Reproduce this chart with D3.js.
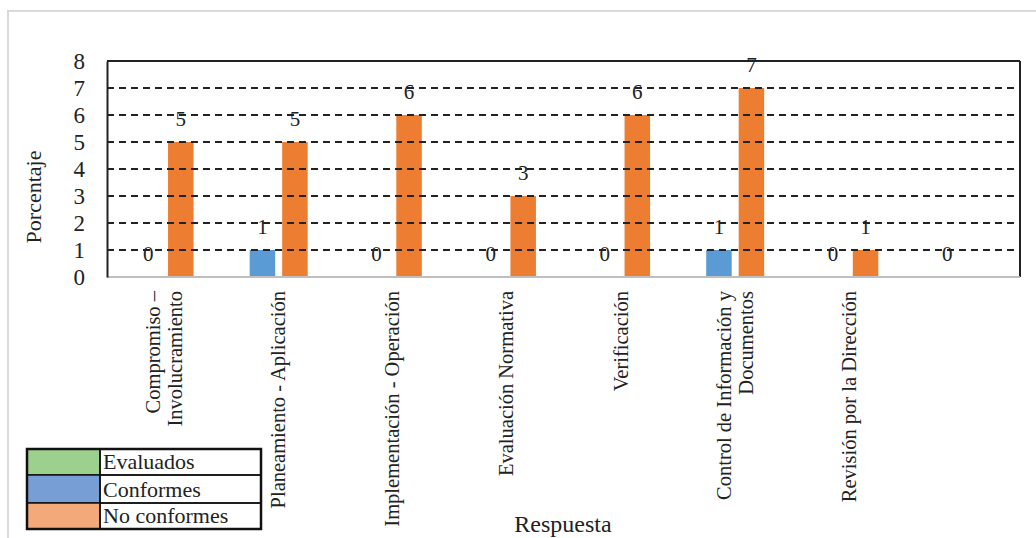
<!DOCTYPE html>
<html>
<head>
<meta charset="utf-8">
<script src="https://cdn.jsdelivr.net/npm/d3@7/dist/d3.min.js"></script>
<style>
html,body{margin:0;padding:0;background:#fff;}
svg{display:block;}
svg text{font-family:"Liberation Serif","Tinos","Times New Roman","DejaVu Serif","Noto Serif",serif;}
</style>
</head>
<body>
<svg id="chart" width="1036" height="538"></svg>
<script>
// ---- data ----
const categories = [
  ["Compromiso –", "Involucramiento"],
  ["Planeamiento - Aplicación"],
  ["Implementación - Operación"],
  ["Evaluación Normativa"],
  ["Verificación"],
  ["Control de Información y", "Documentos"],
  ["Revisión por la Dirección"],
  [""]
];
const seriesNames = ["Conformes", "No conformes"];
const conformes = [0, 1, 0, 0, 0, 1, 0, 0];
const noConformes = [5, 5, 6, 3, 6, 7, 1, null];
const legendLabels = ["Evaluados", "Conformes", "No conformes"];
const yTicks = [0, 1, 2, 3, 4, 5, 6, 7, 8];
const yTitle = "Porcentaje";
const xTitle = "Respuesta";

// ---- styles ----
const barColors = {"Conformes": "#5b9bd5", "No conformes": "#ed7d31"};
const legendColors = ["#9dd08e", "#779fd6", "#f4a97b"];

const svg = d3.select("#chart");
const L = 107, R = 1020, T = 61, B = 277;

// outer frame
svg.append("rect").attr("x", 8).attr("y", 11).attr("width", 1100).attr("height", 600)
  .attr("fill", "none").attr("stroke", "#d9d9d9").attr("stroke-width", 2);

const x = d3.scaleBand().domain(d3.range(categories.length)).range([L, R]).padding(0);
const xs = d3.scaleBand().domain(seriesNames).range([-28.5, 29.5]).paddingInner(0.215).paddingOuter(0);
const y = d3.scaleLinear().domain([0, 8]).range([B, T]);

const seriesData = [
  {name: "Conformes", values: conformes},
  {name: "No conformes", values: noConformes}
];

// bars
const groups = svg.append("g");
seriesData.forEach(s => {
  s.values.forEach((v, i) => {
    if (v === null) return;
    const cx = x(i) + x.bandwidth() / 2;
    const bx = cx + xs(s.name);
    if (v > 0) {
      groups.append("rect")
        .attr("x", bx).attr("y", y(v))
        .attr("width", xs.bandwidth()).attr("height", y(0) - y(v))
        .attr("fill", barColors[s.name]);
    }
    groups.append("text")
      .attr("x", bx + xs.bandwidth() / 2)
      .attr("y", y(v) - 16)
      .attr("text-anchor", "middle")
      .attr("font-size", 21)
      .attr("fill", "#222")
      .text(v);
  });
});

// gridlines (drawn over labels)
const grid = svg.append("g");
yTicks.filter(t => t > 0 && t < 8).forEach(t => {
  grid.append("line").attr("x1", L).attr("x2", R).attr("y1", y(t)).attr("y2", y(t))
    .attr("stroke", "#222").attr("stroke-width", 2).attr("stroke-dasharray", "7,5");
});
// frame lines
grid.append("line").attr("x1", L).attr("x2", R).attr("y1", y(8)).attr("y2", y(8))
  .attr("stroke", "#222").attr("stroke-width", 2);
grid.append("line").attr("x1", R).attr("x2", R).attr("y1", y(8)).attr("y2", y(0))
  .attr("stroke", "#222").attr("stroke-width", 2);
grid.append("line").attr("x1", L).attr("x2", R).attr("y1", y(0)).attr("y2", y(0))
  .attr("stroke", "#bfbfbf").attr("stroke-width", 2);

// y axis
const yAxis = d3.axisLeft(y).tickValues(yTicks).tickSize(0).tickPadding(22).tickFormat(d3.format("d"));
const ya = svg.append("g").attr("transform", `translate(${L},0)`).call(yAxis);
ya.attr("font-family", null);
ya.select(".domain").attr("stroke", "#222").attr("stroke-width", 2);
ya.selectAll("text").attr("font-size", 23).attr("fill", "#222");

// x labels
const xl = svg.append("g");
categories.forEach((lines, i) => {
  const cx = x(i) + x.bandwidth() / 2;
  const n = lines.length;
  lines.forEach((ln, j) => {
    const off = (j - (n - 1) / 2) * 22;
    xl.append("text")
      .attr("transform", `translate(${cx + off + 7},291) rotate(-90)`)
      .attr("text-anchor", "end")
      .attr("font-size", 20.5)
      .attr("fill", "#222")
      .text(ln);
  });
});

// axis titles
svg.append("text").attr("transform", "translate(41,197) rotate(-90)")
  .attr("text-anchor", "middle").attr("font-size", 22).attr("fill", "#222").text(yTitle);
svg.append("text").attr("x", 563).attr("y", 532)
  .attr("text-anchor", "middle").attr("font-size", 24).attr("fill", "#222").text(xTitle);

// legend table
const lg = svg.append("g");
const lx = 27, ly = 449, lw = 234, sw = 73, rh = [26, 28, 26];
let yy = ly;
legendLabels.forEach((lab, i) => {
  lg.append("rect").attr("x", lx).attr("y", yy).attr("width", sw).attr("height", rh[i])
    .attr("fill", legendColors[i]).attr("stroke", "#111").attr("stroke-width", 1.5);
  lg.append("rect").attr("x", lx + sw).attr("y", yy).attr("width", lw - sw).attr("height", rh[i])
    .attr("fill", "none").attr("stroke", "#111").attr("stroke-width", 1.5);
  lg.append("text").attr("x", lx + sw + 3).attr("y", yy + rh[i] - 6)
    .attr("font-size", 22).attr("fill", "#222").text(lab);
  yy += rh[i];
});
lg.append("rect").attr("x", lx).attr("y", ly).attr("width", lw).attr("height", yy - ly)
  .attr("fill", "none").attr("stroke", "#111").attr("stroke-width", 2.5);
</script>
</body>
</html>
